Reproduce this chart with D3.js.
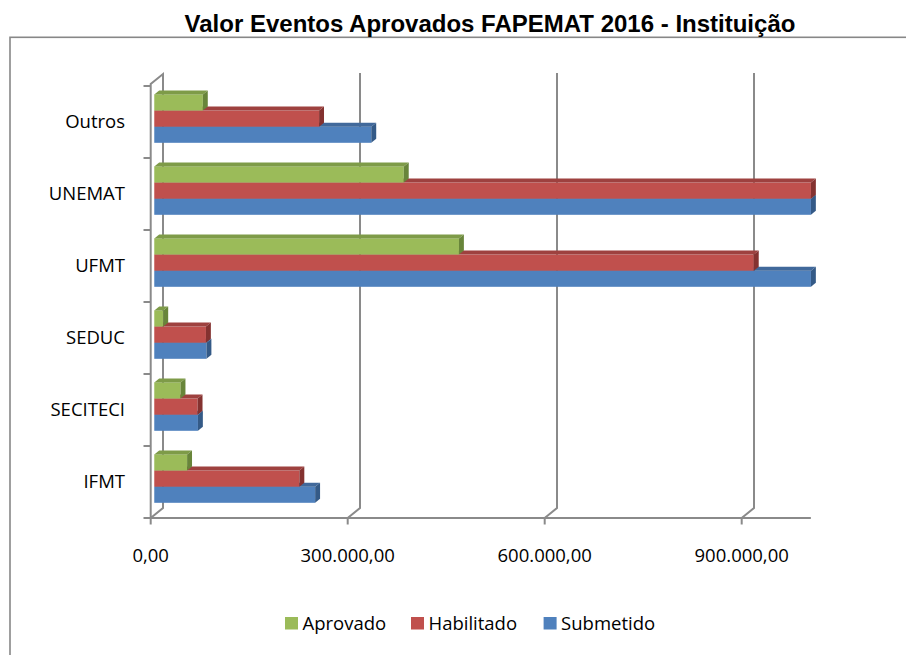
<!DOCTYPE html>
<html>
<head>
<meta charset="utf-8">
<script src="https://cdn.jsdelivr.net/npm/d3@7"></script>
<style>
  body { margin: 0; background: #fff; }
  svg { display: block; }
</style>
</head>
<body>
<div id="vue"></div>
<script>
// donnees (valeurs en R$)
var categories = ["Outros", "UNEMAT", "UFMT", "SEDUC", "SECITECI", "IFMT"];
var series = ["Aprovado", "Habilitado", "Submetido"];
var aprovado   = [74000, 380000, 464000, 13700, 40000, 50000];
// les barres > 1.000.000 sont coupees par l'axe : valeurs estimees
var habilitado = [251000, 1050000, 913000, 78700, 66000, 221000];
var submetido  = [330500, 1100000, 1050000, 79500, 66500, 245000];
var tickValues = [0, 300000, 600000, 900000];
var tickLabels = ["0,00", "300.000,00", "600.000,00", "900.000,00"];
var axisMax = 1000000;

var values = { "Aprovado": aprovado, "Habilitado": habilitado, "Submetido": submetido };
var colors = {
  "Aprovado":   { front: "#9bbb59", top: "#7e9b48", side: "#68853a" },
  "Habilitado": { front: "#c0504d", top: "#9e413f", side: "#843230" },
  "Submetido":  { front: "#4f81bd", top: "#41699b", side: "#345a87" }
};

var width = 906, height = 655;
var svg = d3.select("#vue").append("svg")
  .attr("width", width)
  .attr("height", height);

// profondeur 3D (mur du fond)
var DX = 12.3, DY = -10;
var t0 = 0.29, t1 = 0.69; // profondeur des barres

var x = d3.scaleLinear().domain([0, axisMax]).range([150.7, 150.7 + 197 * axisMax / 300000]).clamp(true);
var y = d3.scaleBand().domain(categories).range([86, 518]).padding(0);
var yInner = d3.scaleBand().domain(series).range([0, 48.4]);
var groupOffset = (y.bandwidth() - 48.4) / 2 - 0.5;

var lineColor = "#8a8a8a";

// cadre
svg.append("rect")
  .attr("x", 10).attr("y", 37.3)
  .attr("width", 1000).attr("height", 1000)
  .attr("fill", "none")
  .attr("stroke", "#878787")
  .attr("stroke-width", 1.6);

// titre
svg.append("text")
  .attr("x", 490).attr("y", 31.5)
  .attr("text-anchor", "middle")
  .style("font-family", "'Liberation Sans', Arial, sans-serif")
  .style("font-weight", "bold")
  .style("font-size", "24px")
  .attr("fill", "#000")
  .text("Valor Eventos Aprovados FAPEMAT 2016 - Instituição");

var walls = svg.append("g")
  .attr("fill", "none")
  .attr("stroke", lineColor)
  .attr("stroke-width", 2);

var yTop = 86, yBottom = 518, yBackTop = 73;

// mur de gauche
walls.append("path")
  .attr("d", d3.line()([[x(0), yBottom], [x(0), yTop - 2], [x(0) + DX, yTop - 2 + DY], [x(0) + DX, yBottom + DY], [x(0), yBottom]]));

// quadrillage (mur du fond + sol)
tickValues.forEach(function (v) {
  if (v === 0) return;
  walls.append("path")
    .attr("d", d3.line()([[x(v), yBottom], [x(v) + DX, yBottom + DY], [x(v) + DX, yBackTop]]));
});

// axe horizontal
walls.append("line")
  .attr("x1", 143.5).attr("x2", x(axisMax) + 3.5)
  .attr("y1", yBottom).attr("y2", yBottom);

tickValues.forEach(function (v) {
  walls.append("line")
    .attr("x1", x(v)).attr("x2", x(v))
    .attr("y1", yBottom).attr("y2", yBottom + 6.5);
});

// graduations des categories
categories.forEach(function (c) {
  walls.append("line")
    .attr("x1", 143.5).attr("x2", x(0))
    .attr("y1", y(c)).attr("y2", y(c));
});

// libelles de l'axe des valeurs
var labelFont = "'Open Sans', 'Noto Sans', sans-serif";
svg.append("g").selectAll("text")
  .data(tickValues)
  .enter()
  .append("text")
  .attr("x", function (d) { return x(d); })
  .attr("y", 562)
  .attr("text-anchor", "middle")
  .style("font-family", labelFont)
  .style("font-size", "18.5px")
  .attr("fill", "#000")
  .text(function (d, i) { return tickLabels[i]; });

// libelles des categories
svg.append("g").selectAll("text")
  .data(categories)
  .enter()
  .append("text")
  .attr("x", 125)
  .attr("y", function (d) { return y(d) + y.bandwidth() / 2; })
  .attr("dy", "0.35em")
  .attr("text-anchor", "end")
  .style("font-family", labelFont)
  .style("font-size", "18.5px")
  .attr("fill", "#000")
  .text(function (d) { return d; });

// barres 3D
function drawBar(g, v, yTopFront, h, col) {
  var xa = x(0) + t0 * DX, xb = x(v) + t0 * DX;
  var ya = yTopFront + t0 * DY;
  var ddx = (t1 - t0) * DX, ddy = (t1 - t0) * DY;

  // face avant
  g.append("rect")
    .attr("x", xa).attr("y", ya)
    .attr("width", Math.max(0, xb - xa)).attr("height", h)
    .attr("fill", col.front);

  // dessus
  g.append("path")
    .attr("d", d3.line()([[xa, ya], [xa + ddx, ya + ddy], [xb + ddx, ya + ddy], [xb, ya]]) + "Z")
    .attr("fill", col.top);

  // cote droit
  g.append("path")
    .attr("d", d3.line()([[xb, ya], [xb + ddx, ya + ddy], [xb + ddx, ya + h + ddy], [xb, ya + h]]) + "Z")
    .attr("fill", col.side);
}

var bars = svg.append("g");
// de bas en haut pour que les barres du dessus cachent le dessus des autres
categories.slice().reverse().forEach(function (c) {
  var i = categories.indexOf(c);
  series.slice().reverse().forEach(function (s) {
    var yy = y(c) + groupOffset + yInner(s);
    drawBar(bars, values[s][i], yy, yInner.bandwidth(), colors[s]);
  });
});

// legende
var legendX = [285, 411, 543.6];
var legend = svg.append("g").selectAll("g")
  .data(series)
  .enter()
  .append("g")
  .attr("transform", function (d, i) { return "translate(" + legendX[i] + ",617)"; });

legend.append("rect")
  .attr("width", 13).attr("height", 12.5)
  .attr("fill", function (d) { return colors[d].front; });

legend.append("text")
  .attr("x", 17.5).attr("y", 12.5)
  .style("font-family", labelFont)
  .style("font-size", "18.5px")
  .attr("fill", "#000")
  .text(function (d) { return d; });
</script>
</body>
</html>
